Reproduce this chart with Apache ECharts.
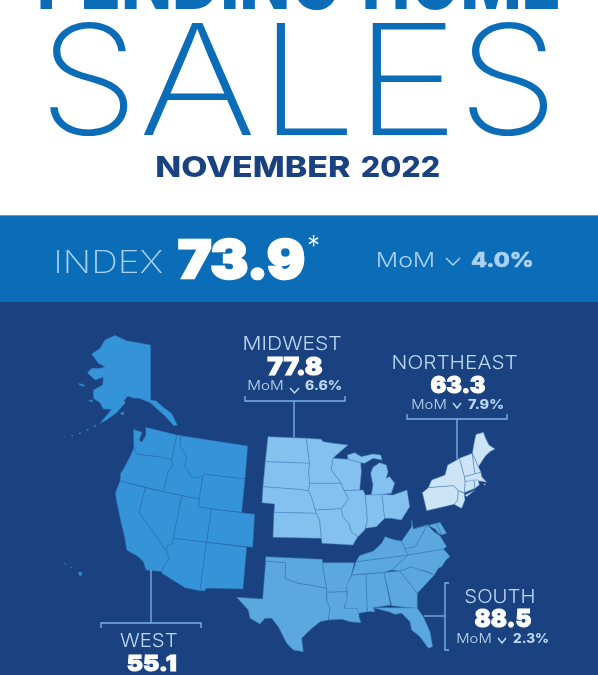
<!DOCTYPE html>
<html><head><meta charset="utf-8">
<style>html,body{margin:0;padding:0;background:#1b4280;overflow:hidden}#c{width:598px;height:675px}</style>
<script src="https://cdn.jsdelivr.net/npm/echarts@6/dist/echarts.min.js"></script>
</head><body><div id="c"></div>
<script>
// ---- values
const regionNames = ['MIDWEST','NORTHEAST','SOUTH','WEST'];
const regionValues = [77.8, 63.3, 88.5, 55.1];
const regionMoM = ['6.6%','7.9%','2.3%',null];
const indexValue = 73.9;
const indexMoM = '4.0%';
const regionColors = {WEST:'#3594d8',MIDWEST:'#85c1ee',NORTHEAST:'#cde4f6',SOUTH:'#5aa8df'};
const regionBorders = {WEST:'#2c6fb2',MIDWEST:'#4a88c4',NORTHEAST:'#4b86bf',SOUTH:'#3a78b4'};

// ---- outline geometry: each shape = [origin key, ring, ring...]; ring values are traced at 3x
const origins = {a:[50,330],w:[110,425],m:[258,430],n:[415,425],t:[235,550],e:[340,515],h:[40,320]};
const westStates = {
 AK:['a',[[195,16],[230,32],[302,45],[302,210],[318,212],[340,232],[365,250],[382,285],[372,288],[345,258],[325,240],[300,218],[268,205],[250,205],[240,200],[232,200],[222,212],[226,218],[200,248],[170,270],[150,280],[185,238],[160,237],[150,218],[130,205],[130,180],[158,165],[160,142],[135,150],[112,128],[125,115],[150,115],[165,110],[145,100],[125,72],[150,55],[165,30]],[[85,160],[103,164],[103,169],[88,165]],[[115,213],[128,209],[128,216]],[[130,288],[138,285],[136,291]],[[108,300],[115,297],[114,302]],[[85,310],[92,307],[91,312]],[[62,317],[69,315],[68,319]],[[40,322],[46,320],[46,323]],[[210,250],[222,245],[220,256]]],
 WA:['w',[[70,13],[96,22],[88,45],[95,52],[108,30],[107,7],[200,30],[185,105],[145,95],[80,88],[72,68]]],
 OR:['w',[[72,68],[80,88],[145,95],[185,105],[190,120],[175,140],[160,200],[30,168],[32,145],[42,130],[60,95]]],
 ID:['w',[[200,30],[213,32],[210,60],[230,95],[225,125],[247,158],[278,155],[268,222],[160,200],[175,140],[190,120],[185,105]]],
 MT:['w',[[213,32],[413,63],[405,162],[282,148],[278,155],[247,158],[225,125],[230,95],[210,60]]],
 WY:['w',[[282,148],[405,162],[395,262],[304,252],[265,245],[268,222],[278,155]]],
 CA:['w',[[30,168],[106,188],[88,262],[170,380],[178,403],[165,418],[156,440],[108,435],[100,410],[85,395],[50,375],[45,340],[35,300],[22,240],[16,205]]],
 NV:['w',[[106,188],[215,212],[190,340],[186,358],[172,362],[170,380],[88,262]]],
 UT:['w',[[215,212],[268,222],[265,245],[304,252],[290,352],[190,340]]],
 CO:['w',[[304,252],[434,268],[428,367],[290,352]]],
 AZ:['w',[[190,340],[290,352],[270,497],[225,488],[156,445],[156,440],[165,418],[178,403],[170,380],[172,362],[186,358]]],
 NM:['w',[[290,352],[410,367],[399,492],[318,490],[288,490],[285,497],[270,497]]],
 HI:['h',[[73,730],[78,731],[77,736]],[[92,740],[97,742],[93,745]],[[106,743],[110,745],[107,748]],[[116,756],[126,757],[124,768],[117,766]]]
};
const midwestStates = {
 ND:['m',[[30,20],[145,25],[155,100],[22,95]]],
 SD:['m',[[22,95],[155,100],[152,125],[155,160],[152,183],[120,178],[15,170]]],
 NE:['m',[[15,170],[120,178],[152,183],[160,200],[172,240],[175,250],[48,247],[50,222],[12,218]]],
 KS:['m',[[48,247],[175,250],[185,270],[190,325],[45,322]]],
 MN:['m',[[145,25],[190,28],[195,35],[225,40],[270,45],[235,75],[225,85],[220,120],[250,160],[155,160],[152,125],[155,100]]],
 IA:['m',[[155,160],[250,160],[258,182],[272,205],[258,225],[250,236],[172,240],[160,200],[152,183]]],
 MO:['m',[[172,240],[250,236],[255,260],[275,285],[280,305],[300,320],[290,335],[285,345],[192,340],[190,325],[185,270],[175,250]]],
 WI:['m',[[225,85],[270,88],[308,98],[310,125],[305,180],[258,182],[250,160],[220,120]]],
 IL:['m',[[258,182],[315,180],[322,195],[328,270],[320,300],[300,320],[280,305],[275,285],[255,260],[250,236],[258,225],[272,205]]],
 IN:['m',[[322,195],[372,193],[380,265],[355,290],[322,295],[328,270]]],
 OH:['m',[[372,193],[405,195],[447,180],[455,230],[430,270],[400,265],[380,265]]],
 MI:['m',[[340,195],[345,165],[338,130],[345,112],[365,98],[385,105],[390,125],[385,145],[395,140],[410,160],[400,190],[372,193]],[[270,88],[268,75],[290,68],[310,80],[345,72],[368,75],[372,90],[345,85],[320,100],[308,98]]]
};
const northeastStates = {
 ME:['n',[[172,85],[178,50],[183,28],[195,25],[205,22],[212,40],[222,60],[240,72],[225,80],[212,92],[205,102],[195,118],[190,125]]],
 VT:['n',[[133,100],[172,85],[180,147],[148,155]]],
 NH:['n',[[172,85],[190,125],[198,142],[180,147]]],
 MA:['n',[[148,155],[198,142],[200,155],[215,172],[195,168],[150,170]]],
 CT:['n',[[150,170],[177,165],[180,190],[148,203]]],
 RI:['n',[[177,165],[190,165],[193,180],[180,190]]],
 NY:['n',[[133,100],[148,155],[150,170],[148,203],[130,197],[115,182],[40,188],[50,165],[90,150],[98,120],[120,108]],[[150,210],[180,195],[155,215]],[[205,178],[212,176],[210,181]]],
 PA:['n',[[22,203],[40,188],[115,182],[130,197],[128,225],[118,238],[35,257]]],
 NJ:['n',[[130,197],[148,205],[150,225],[140,250],[130,245],[118,238],[128,225]]]
};
const southStates = {
 TX:['t',[[92,33],[152,38],[150,85],[190,100],[225,105],[275,115],[275,150],[285,175],[280,210],[255,215],[225,240],[200,265],[205,305],[175,300],[155,280],[130,230],[110,205],[90,205],[75,222],[45,205],[40,180],[5,142],[83,147]]],
 OK:['t',[[92,20],[262,28],[265,60],[275,115],[225,105],[190,100],[150,85],[152,38],[92,33]]],
 AR:['t',[[262,38],[358,38],[350,72],[340,100],[335,125],[275,127],[275,115],[265,60]]],
 LA:['t',[[275,127],[335,125],[338,145],[328,172],[372,175],[372,200],[378,218],[345,215],[320,208],[280,210],[285,175],[275,150]]],
 MS:['e',[[35,180],[78,177],[82,290],[55,295],[52,280],[13,280],[22,245],[20,210]]],
 AL:['e',[[78,177],[132,172],[152,270],[100,278],[105,290],[82,290]]],
 GA:['e',[[132,172],[180,168],[232,235],[232,280],[220,280],[155,272],[152,270]]],
 SC:['e',[[180,168],[215,155],[270,175],[283,180],[255,210],[232,235]]],
 NC:['e',[[155,165],[205,120],[310,102],[322,115],[330,125],[318,135],[305,155],[295,160],[283,180],[262,170],[225,160],[215,155],[180,168]]],
 TN:['e',[[35,180],[48,140],[205,120],[155,165],[132,172]]],
 KY:['e',[[48,140],[58,122],[100,108],[125,85],[135,65],[165,75],[185,78],[195,102],[205,120]]],
 WV:['e',[[185,78],[215,35],[215,15],[220,42],[262,30],[235,80],[225,95],[195,102]]],
 VA:['e',[[195,102],[225,95],[235,80],[262,30],[282,50],[300,62],[320,95],[310,102],[205,120]]],
 MD:['e',[[220,42],[290,25],[305,60],[295,55],[285,42],[262,30]]],
 DE:['e',[[290,25],[300,22],[320,55],[305,60]]],
 FL:['e',[[100,278],[218,278],[232,280],[250,305],[270,350],[278,395],[265,400],[240,365],[215,345],[210,320],[185,295],[165,298],[145,290]]]
};
const byRegion = {WEST:westStates,MIDWEST:midwestStates,NORTHEAST:northeastStates,SOUTH:southStates};

// ---- build map
const features=[], mapData=[];
let minX=1e9,maxX=-1e9,minY=1e9,maxY=-1e9;
Object.keys(byRegion).forEach(r=>{
  const states=byRegion[r];
  Object.keys(states).forEach(name=>{
    const [key,...rings]=states[name]; const o=origins[key];
    const polys=rings.map(ring=>{
      const pts=ring.map(p=>{const x=o[0]+p[0]/3,y=o[1]+p[1]/3;
        minX=Math.min(minX,x);maxX=Math.max(maxX,x);minY=Math.min(minY,y);maxY=Math.max(maxY,y);return [x,-y];});
      pts.push(pts[0]); return [pts];
    });
    features.push({type:'Feature',properties:{name},geometry:{type:'MultiPolygon',coordinates:polys}});
    mapData.push({name,value:regionValues[regionNames.indexOf(r)],itemStyle:{areaColor:regionColors[r],borderColor:regionBorders[r],borderWidth:0.5}});
  });
});
echarts.registerMap('us',{type:'FeatureCollection',features});

// ---- text fitted to a target box
const cx=document.createElement('canvas').getContext('2d');
function fit(text,font,x0,x1,top,bottom,fill,extra){
  cx.font=font;cx.textBaseline='middle';
  const m=cx.measureText(text);
  const w=m.actualBoundingBoxLeft+m.actualBoundingBoxRight,h=m.actualBoundingBoxAscent+m.actualBoundingBoxDescent;
  const sx=(x1-x0)/w,sy=(bottom-top)/h;
  return {type:'text',x:x0+m.actualBoundingBoxLeft*sx,y:top+m.actualBoundingBoxAscent*sy,scaleX:sx,scaleY:sy,z:10,silent:true,
    style:Object.assign({text,font,fill,align:'left',verticalAlign:'middle',textAlign:'left',textVerticalAlign:'middle',textBaseline:'middle'},extra||{})};
}
function line(points,stroke,w){return {type:'polyline',z:9,silent:true,shape:{points},style:{stroke,lineWidth:w,fill:null}};}

const F='Inter, "Noto Sans", sans-serif';
const BLUE='#0b6cb8',NAVY='#1b4280',PALE='#a9d2f1',LBL='#bcd8f1',BR='#7db5e6';
const thin='200 160px '+F, heavy='800 80px '+F, lab='300 30px '+F, num='900 40px '+F, pct='800 20px '+F, mom='300 20px '+F;
const fat={stroke:'#ffffff',lineWidth:1.6};

const g=[
 {type:'rect',z:-2,silent:true,shape:{x:0,y:0,width:598,height:216},style:{fill:'#ffffff'}},
 {type:'rect',z:-2,silent:true,shape:{x:0,y:215,width:598,height:87},style:{fill:BLUE}},
 {type:'rect',z:-2,silent:true,shape:{x:0,y:215,width:598,height:1},style:{fill:'#5c9fd6'}},
 {type:'rect',z:-2,silent:true,shape:{x:0,y:302,width:598,height:373},style:{fill:NAVY}},
 fit('PENDING',heavy,40,338,-50,10,BLUE),
 fit('HOME',heavy,365,558,-50,10,BLUE),
 fit('S',thin,50,128,22,136,BLUE),fit('A',thin,143,252,23,135,BLUE),fit('L',thin,276,347,23,135,BLUE),fit('E',thin,372,448,23,135,BLUE),fit('S',thin,469,548,22,136,BLUE),
 fit('NOVEMBER',heavy,157,350,156,177,NAVY),fit('2022',heavy,362,439,156,177,NAVY),
 fit('INDEX','200 30px '+F,57,163,250,273,PALE),
 fit(String(indexValue),'900 50px '+F,179,304,239,279,'#ffffff',{stroke:'#ffffff',lineWidth:2.4}),
 fit('*','300 30px '+F,308,319,236,248,'#ffffff'),
 fit('MoM','300 20px '+F,377,434,252,268,PALE),
 line([[446,258],[453,265],[460,258]],PALE,1.5),
 fit(indexMoM,'800 20px '+F,471,532,252,268,PALE,{stroke:PALE,lineWidth:0.5})
];
// region blocks
const blocks=[
 {t:[244,341,336,350],n:[268,322,357,375],m:[248,283,381,391],c:[290,299,388],p:[305,341,381,391],b:[[245,396],[245,401],[345,401],[345,396]],s:[[294,401],[294,437]]},
 {t:[393,517,355,369],n:[431,485,376,393],m:[412,446,400,410],c:[453,461,403],p:[468,503,400,410],b:[[407,414],[407,419],[507,419],[507,414]],s:[[457,419],[457,459]]},
 {t:[465,534,589,603],n:[475,531,609,627],m:[457,491,634,644],c:[498,506,638],p:[513,548,634,644],b:[[449,583],[445,583],[445,650],[449,650]],s:[[424,616],[445,616]]},
 {t:[120,177,633,647],n:[128,176,655,671],b:[[101,628],[101,623],[201,623],[201,628]],s:[[151,570],[151,623]]}
];
blocks.forEach((b,i)=>{
  g.push(fit(regionNames[i],lab,b.t[0],b.t[1],b.t[2],b.t[3],LBL));
  g.push(fit(regionValues[i].toFixed(1),num,b.n[0],b.n[1],b.n[2],b.n[3],'#ffffff',fat));
  if(b.m){
    g.push(fit('MoM',mom,b.m[0],b.m[1],b.m[2],b.m[3],LBL));
    g.push(line([[b.c[0],b.c[2]],[(b.c[0]+b.c[1])/2,b.c[2]+5],[b.c[1],b.c[2]]],LBL,1.5));
    g.push(fit(regionMoM[i],pct,b.p[0],b.p[1],b.p[2],b.p[3],LBL));
  }
  g.push(line(b.b,BR,1.3));g.push(line(b.s,BR,1.3));
});

const chart=echarts.init(document.getElementById('c'),null,{renderer:'canvas',width:598,height:675});
chart.setOption({
  animation:false,
  backgroundColor:NAVY,
  graphic:{elements:g},
  series:[{type:'map',map:'us',silent:true,aspectScale:1,left:minX,top:minY,width:maxX-minX,height:maxY-minY,
    label:{show:false},emphasis:{disabled:true},select:{disabled:true},data:mapData}]
});
</script></body></html>
